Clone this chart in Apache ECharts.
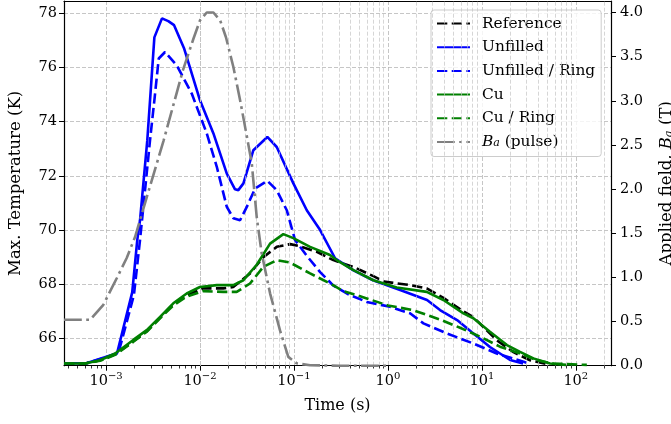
<!DOCTYPE html>
<html>
<head>
<meta charset="utf-8">
<script src="https://cdn.jsdelivr.net/npm/echarts@6/dist/echarts.min.js"></script>
<style>
  html, body { margin: 0; padding: 0; background: #ffffff; }
  #chart { width: 671px; height: 424px; }
</style>
</head>
<body>
<div id="chart"></div>
<script>
// Maximum temperature histories (K) versus time (s) for each configuration
const timeRef = [3.57e-4, 5.97e-4, 8.63e-4, 1.25e-3, 1.95e-3, 2.71e-3, 3.76e-3, 5.2e-3, 7.22e-3, 0.0108, 0.0177, 0.0226, 0.0341, 0.0472, 0.0656, 0.091, 0.116, 0.175, 0.263, 0.43, 0.70, 0.909, 1.72, 2.59, 3.9, 6.37, 8.07, 14.4, 21.7, 32.6, 49.1];
const tempRef = [65.08, 65.08, 65.2, 65.42, 65.9, 66.27, 66.77, 67.27, 67.6, 67.85, 67.85, 67.9, 68.4, 69.0, 69.38, 69.48, 69.4, 69.2, 68.89, 68.64, 68.3, 68.1, 67.97, 67.85, 67.5, 67.0, 66.8, 65.94, 65.5, 65.2, 65.06];

const timeUnfilled = [3.57e-4, 6.3e-4, 1.31e-3, 1.9e-3, 2.15e-3, 2.3e-3, 2.75e-3, 3.27e-3, 3.94e-3, 4.6e-3, 5.3e-3, 6.76e-3, 0.01, 0.0139, 0.0193, 0.0236, 0.0256, 0.029, 0.037, 0.0521, 0.0656, 0.0986, 0.137, 0.19, 0.274, 0.426, 0.695, 1.35, 2.61, 3.59, 5.45, 8.07, 12.2, 20, 27.5];
const tempUnfilled = [65.08, 65.1, 65.46, 67.7, 69.63, 70.36, 73.31, 77.1, 77.8, 77.7, 77.55, 76.7, 74.78, 73.56, 72.08, 71.5, 71.47, 71.72, 72.94, 73.43, 73.06, 71.72, 70.73, 70.0, 68.96, 68.52, 68.15, 67.79, 67.42, 67.05, 66.68, 66.2, 65.69, 65.21, 65.08];

const timeUnfilledRing = [3.57e-4, 6.3e-4, 1.35e-3, 1.98e-3, 2.3e-3, 2.94e-3, 3.27e-3, 3.64e-3, 4.25e-3, 5.66e-3, 8.17e-3, 0.0118, 0.0151, 0.0193, 0.0227, 0.0267, 0.0315, 0.0386, 0.0521, 0.0656, 0.0839, 0.1028, 0.137, 0.19, 0.263, 0.395, 0.596, 1.055, 1.72, 2.39, 4.24, 8.1, 14.4, 27.8, 32.7];
const tempUnfilledRing = [65.08, 65.1, 65.45, 67.6, 69.63, 73.31, 74.78, 76.32, 76.56, 76.07, 75.03, 73.56, 72.33, 70.85, 70.43, 70.36, 70.85, 71.53, 71.81, 71.47, 70.73, 69.63, 69.05, 68.45, 67.95, 67.6, 67.35, 67.17, 66.93, 66.56, 66.19, 65.82, 65.45, 65.15, 65.05];

const timeCu = [3.57e-4, 5.97e-4, 8.63e-4, 1.25e-3, 1.95e-3, 2.71e-3, 3.76e-3, 5.2e-3, 7.22e-3, 0.01, 0.0151, 0.0226, 0.029, 0.0402, 0.0557, 0.0771, 0.0986, 0.1485, 0.242, 0.297, 0.43, 0.70, 1.24, 2.59, 3.9, 6.37, 8.13, 12.2, 18.5, 25.5, 35.4, 53.2, 78.9];
const tempCu = [65.08, 65.08, 65.2, 65.45, 65.95, 66.31, 66.8, 67.3, 67.66, 67.9, 67.97, 67.97, 68.15, 68.72, 69.5, 69.85, 69.7, 69.38, 69.08, 68.85, 68.52, 68.15, 67.88, 67.72, 67.42, 66.93, 66.75, 66.25, 65.76, 65.51, 65.27, 65.08, 65.03];

const timeCuRing = [3.57e-4, 5.97e-4, 8.63e-4, 1.25e-3, 1.95e-3, 2.71e-3, 3.76e-3, 5.2e-3, 7.22e-3, 0.0108, 0.0177, 0.0246, 0.0341, 0.0472, 0.0656, 0.091, 0.1485, 0.242, 0.336, 0.596, 1.0, 1.85, 3.59, 5.86, 9.57, 15.6, 25.5, 38.5, 57.8, 131];
const tempCuRing = [65.08, 65.08, 65.18, 65.4, 65.88, 66.25, 66.75, 67.22, 67.55, 67.75, 67.72, 67.72, 68.03, 68.64, 68.89, 68.8, 68.4, 68.03, 67.75, 67.48, 67.22, 67.05, 66.7, 66.4, 66.07, 65.7, 65.45, 65.2, 65.08, 65.03];

// Applied field pulse (T), right-hand axis
const timePulse = [3.57e-4, 6.76e-4, 9.36e-4, 1.3e-3, 1.66e-3, 2.04e-3, 2.5e-3, 4.1e-3, 6.6e-3, 8.5e-3, 0.01, 0.0118, 0.0139, 0.0164, 0.0189, 0.0227, 0.0267, 0.0315, 0.0356, 0.0402, 0.0454, 0.0557, 0.0711, 0.0871, 0.107, 0.1485, 0.3, 1.0];
const fieldPulse = [0.52, 0.52, 0.69, 0.99, 1.22, 1.46, 1.78, 2.55, 3.35, 3.7, 3.91, 4.0, 4.0, 3.91, 3.72, 3.38, 3.01, 2.6, 2.29, 1.68, 1.27, 0.82, 0.40, 0.10, 0.027, 0.005, 0, 0];

// Axis ranges and ticks
const timeMin = 3.57e-4, timeMax = 237;
const tempMin = 65, tempMax = 78.44;
const fieldMin = 0, fieldMax = 4.13;
const minorTimes = [];
for (let e = -4; e <= 2; e++) {
  for (let k = 2; k <= 9; k++) {
    const v = k * Math.pow(10, e);
    if (v > timeMin && v < timeMax) minorTimes.push(+v.toPrecision(3));
  }
}

const FONT = 'DejaVu Serif';
const zip = (xs, ys) => xs.map((x, i) => [x, ys[i]]);
const gridLine = { show: true, lineStyle: { color: '#b8b8b8', width: 0.8, type: [4, 2] } };

function powLabel(v) {
  const e = Math.round(Math.log10(v));
  if (Math.abs(Math.log10(v) - e) > 1e-6) return '';
  const s = e < 0 ? '\u2212' + (-e) : String(e);
  return '{b|10}{s|' + s + '}';
}

function lineSeries(name, xs, ys, color, dash, yIdx, z) {
  return {
    name: name, type: 'line', data: zip(xs, ys),
    xAxisIndex: 0, yAxisIndex: yIdx, symbol: 'none', smooth: false, z: z,
    lineStyle: { color: color, width: 2.6, type: dash, cap: 'butt' },
    itemStyle: { color: color },
    emphasis: { disabled: true }, animation: false
  };
}

const chart = echarts.init(document.getElementById('chart'), null, { renderer: 'canvas' });
chart.setOption({
  animation: false,
  backgroundColor: '#ffffff',
  grid: { left: 64, right: 60, top: 1, bottom: 58.3, containLabel: false, outerBoundsMode: 'none' },
  legend: {
    orient: 'vertical', left: 431, top: 10,
    padding: [6, 6, 7, 5], itemGap: 8.7, itemWidth: 33, itemHeight: 14,
    backgroundColor: 'rgba(255,255,255,0.8)', borderColor: '#cccccc', borderWidth: 1, borderRadius: 3,
    itemStyle: { opacity: 0 },
    data: ['Reference', 'Unfilled', 'Unfilled / Ring', 'Cu', 'Cu / Ring', 'Ba (pulse)'],
    formatter: function (n) { return n === 'Ba (pulse)' ? '{i|B}{sub|a} (pulse)' : n; },
    textStyle: {
      fontFamily: FONT, fontSize: 15.4, color: '#000', lineHeight: 14, padding: [0, 0, 0, 7],
      rich: {
        i: { fontFamily: FONT, fontSize: 15.4, fontStyle: 'italic', color: '#000' },
        sub: { fontFamily: FONT, fontSize: 11, fontStyle: 'italic', color: '#000', verticalAlign: 'bottom', lineHeight: 14 }
      }
    },
    selectedMode: false
  },
  xAxis: [
    {
      type: 'log', logBase: 10, min: timeMin, max: timeMax, position: 'bottom',
      name: 'Time (s)', nameLocation: 'middle', nameGap: 32,
      nameTextStyle: { fontFamily: FONT, fontSize: 16, color: '#000' },
      axisLine: { show: true, onZero: false, lineStyle: { color: '#000', width: 1.2 } },
      axisTick: { show: true, inside: false, length: 5, lineStyle: { color: '#000', width: 1 } },
      axisLabel: {
        show: true, margin: 6, showMinLabel: false, showMaxLabel: false,
        formatter: powLabel,
        rich: {
          b: { fontFamily: FONT, fontSize: 14.5, color: '#000', lineHeight: 20 },
          s: { fontFamily: FONT, fontSize: 10, color: '#000', verticalAlign: 'top', lineHeight: 20 }
        }
      },
      splitLine: gridLine
    },
    {
      // minor ticks at 2..9 × 10^n, placed on a linear axis spanning log10(time)
      type: 'value', min: Math.log10(timeMin), max: Math.log10(timeMax), position: 'bottom',
      axisLine: { show: false },
      axisTick: { show: true, inside: false, length: 2.8, customValues: minorTimes.map(v => Math.log10(v)), lineStyle: { color: '#000', width: 0.8 } },
      axisLabel: { show: false },
      splitLine: { show: false }
    },
    {
      type: 'log', logBase: 10, min: timeMin, max: timeMax, position: 'top',
      axisLine: { show: true, onZero: false, lineStyle: { color: '#000', width: 1.2 } },
      axisTick: { show: false }, axisLabel: { show: false }, splitLine: { show: false }
    }
  ],
  yAxis: [
    {
      type: 'value', min: tempMin, max: tempMax, splitNumber: 7, position: 'left',
      name: 'Max. Temperature (K)', nameLocation: 'middle', nameGap: 40, nameRotate: 90,
      nameTextStyle: { fontFamily: FONT, fontSize: 16.5, color: '#000' },
      axisLine: { show: true, onZero: false, lineStyle: { color: '#000', width: 1.2 } },
      axisTick: { show: true, inside: false, length: 5, lineStyle: { color: '#000', width: 1 } },
      axisLabel: { fontFamily: FONT, fontSize: 14.5, color: '#000', margin: 7, showMinLabel: false, showMaxLabel: false,
        formatter: v => (Math.abs(v - Math.round(v)) < 1e-6 ? String(Math.round(v)) : '') },
      splitLine: gridLine
    },
    {
      type: 'value', min: fieldMin, max: fieldMax, interval: 0.5, position: 'right',
      name: 'Applied field, {i|B}{sub|a} (T)', nameLocation: 'middle', nameGap: 47, nameRotate: 90,
      nameTextStyle: {
        fontFamily: FONT, fontSize: 16.5, color: '#000',
        rich: {
          i: { fontFamily: FONT, fontSize: 16.5, fontStyle: 'italic', color: '#000' },
          sub: { fontFamily: FONT, fontSize: 11.5, fontStyle: 'italic', color: '#000', verticalAlign: 'bottom' }
        }
      },
      axisLine: { show: true, onZero: false, lineStyle: { color: '#000', width: 1.2 } },
      axisTick: { show: true, inside: false, length: 5, lineStyle: { color: '#000', width: 1 } },
      axisLabel: { fontFamily: FONT, fontSize: 14.5, color: '#000', margin: 9, showMaxLabel: false,
        formatter: v => v.toFixed(1) },
      splitLine: { show: false }
    }
  ],
  series: [
    {
      name: 'minor-grid', type: 'line', data: [], xAxisIndex: 0, yAxisIndex: 0, z: 1, silent: true,
      markLine: {
        silent: true, symbol: 'none', animation: false, label: { show: false },
        lineStyle: { color: '#c4c4c4', width: 0.7, type: [4, 2] },
        data: minorTimes.map(v => ({ xAxis: v }))
      }
    },
    lineSeries('Reference', timeRef, tempRef, '#000000', [10.3, 4.4], 0, 3),
    lineSeries('Unfilled', timeUnfilled, tempUnfilled, '#0000ff', 'solid', 0, 4),
    lineSeries('Unfilled / Ring', timeUnfilledRing, tempUnfilledRing, '#0000ff', [10.3, 4.4], 0, 5),
    lineSeries('Cu', timeCu, tempCu, '#008000', 'solid', 0, 6),
    lineSeries('Cu / Ring', timeCuRing, tempCuRing, '#008000', [10.3, 4.4], 0, 7),
    lineSeries('Ba (pulse)', timePulse, fieldPulse, '#808080', [17.8, 4.4, 2.8, 4.4], 1, 8)
  ]
});
</script>
</body>
</html>
